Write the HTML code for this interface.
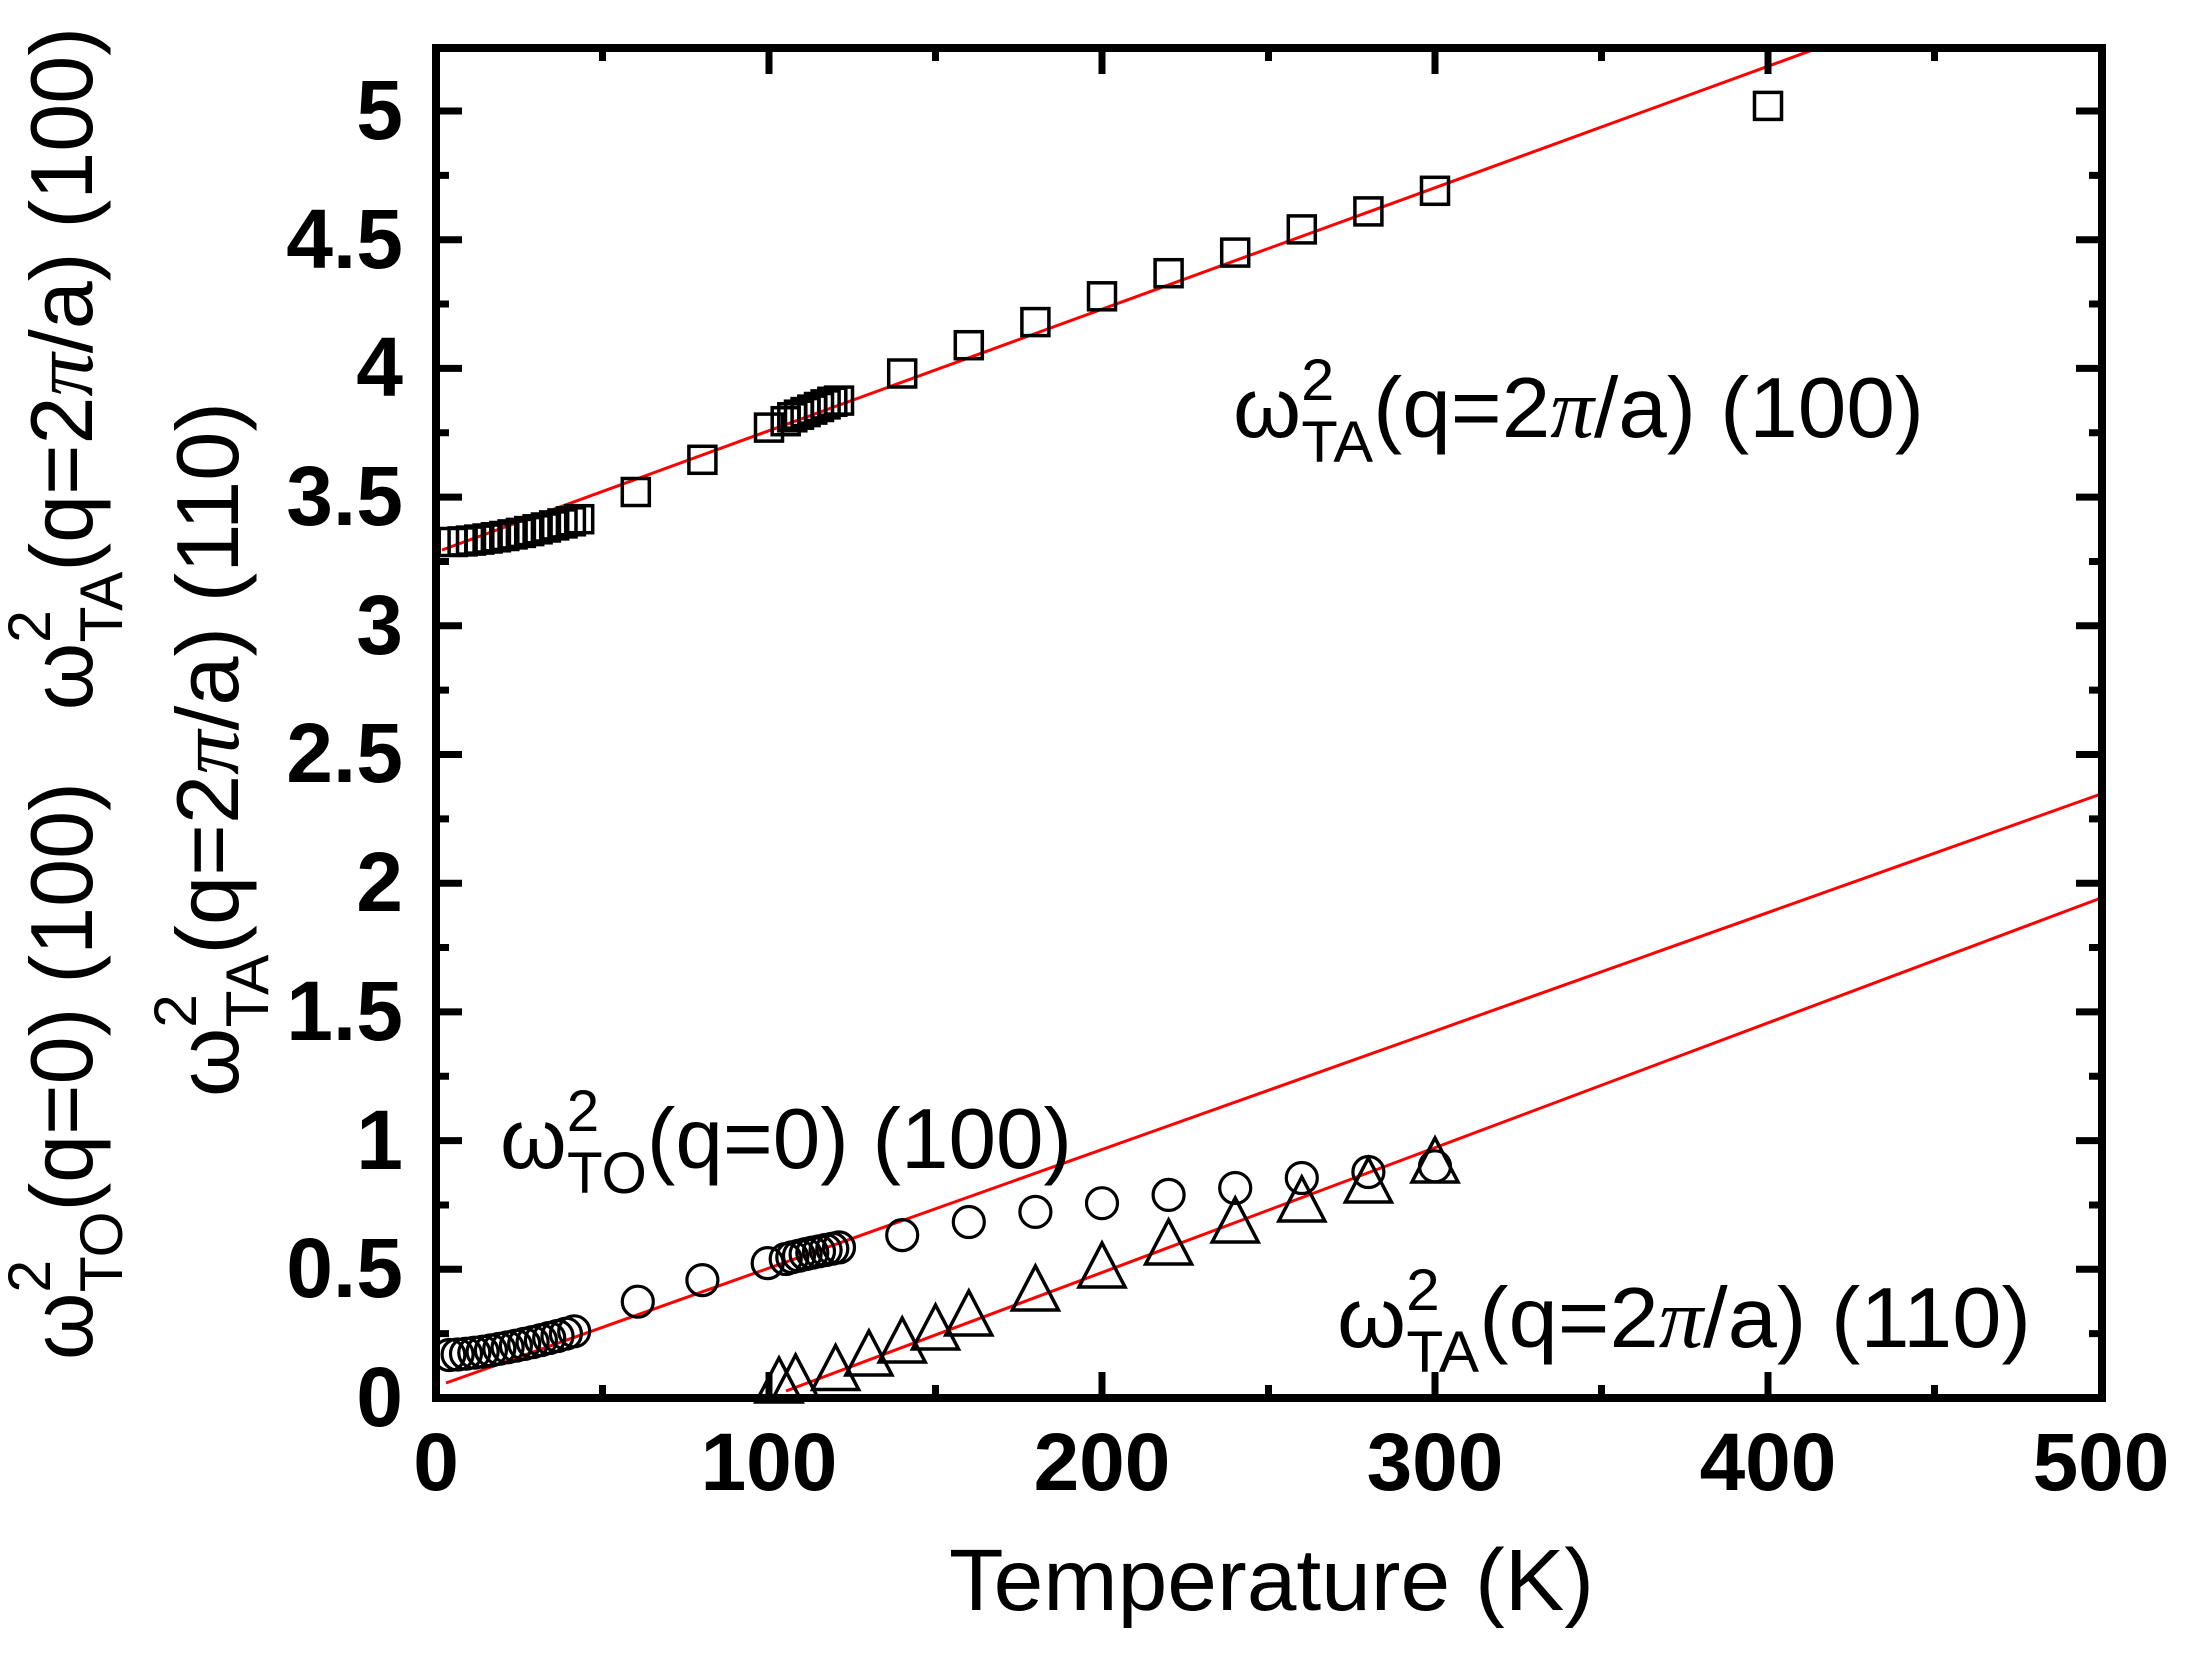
<!DOCTYPE html>
<html><head><meta charset="utf-8"><style>
html,body{margin:0;padding:0;background:#fff;}
svg{display:block;}
text{font-family:"Liberation Sans",sans-serif;fill:#000;}
</style></head><body>
<svg width="2186" height="1655" viewBox="0 0 2186 1655" xmlns="http://www.w3.org/2000/svg">
<rect width="2186" height="1655" fill="#fff"/>
<g stroke="#ff0000" stroke-width="3" fill="none">
<line x1="442" y1="550" x2="1818" y2="48"/>
<line x1="446" y1="1383" x2="2101" y2="794"/>
<line x1="786" y1="1391" x2="2101" y2="898"/>
</g>
<g stroke="#000" stroke-width="3.5" fill="none">
<rect x="439.2" y="528.5" width="27" height="27"/>
<rect x="449.1" y="527.9" width="27" height="27"/>
<rect x="457.5" y="527.1" width="27" height="27"/>
<rect x="465.8" y="526.1" width="27" height="27"/>
<rect x="474.1" y="525" width="27" height="27"/>
<rect x="482.4" y="523.8" width="27" height="27"/>
<rect x="490.8" y="522.5" width="27" height="27"/>
<rect x="499.1" y="520.9" width="27" height="27"/>
<rect x="507.4" y="519.4" width="27" height="27"/>
<rect x="515.7" y="517.6" width="27" height="27"/>
<rect x="524.1" y="515.8" width="27" height="27"/>
<rect x="532.4" y="514" width="27" height="27"/>
<rect x="540.7" y="511.9" width="27" height="27"/>
<rect x="549" y="509.9" width="27" height="27"/>
<rect x="557.4" y="507.8" width="27" height="27"/>
<rect x="565.7" y="505.7" width="27" height="27"/>
<rect x="622.3" y="478.5" width="27" height="27"/>
<rect x="688.9" y="446.3" width="27" height="27"/>
<rect x="755.5" y="414.1" width="27" height="27"/>
<rect x="772.2" y="407.7" width="27" height="27"/>
<rect x="778.8" y="403.8" width="27" height="27"/>
<rect x="785.5" y="401.2" width="27" height="27"/>
<rect x="792.1" y="398.6" width="27" height="27"/>
<rect x="798.8" y="396.1" width="27" height="27"/>
<rect x="805.5" y="393.5" width="27" height="27"/>
<rect x="812.1" y="390.9" width="27" height="27"/>
<rect x="818.8" y="388.3" width="27" height="27"/>
<rect x="825.5" y="387.1" width="27" height="27"/>
<rect x="888.7" y="360" width="27" height="27"/>
<rect x="955.3" y="331.7" width="27" height="27"/>
<rect x="1021.9" y="308.6" width="27" height="27"/>
<rect x="1088.5" y="282.8" width="27" height="27"/>
<rect x="1155.1" y="259.7" width="27" height="27"/>
<rect x="1221.7" y="239.1" width="27" height="27"/>
<rect x="1288.3" y="215.9" width="27" height="27"/>
<rect x="1354.9" y="197.9" width="27" height="27"/>
<rect x="1421.5" y="177.3" width="27" height="27"/>
<rect x="1754.5" y="92.4" width="27" height="27"/>
</g>
<g stroke="#000" stroke-width="3.2" fill="none">
<circle cx="449.3" cy="1355" r="15.5"/>
<circle cx="457.6" cy="1354.5" r="15.5"/>
<circle cx="466" cy="1353.7" r="15.5"/>
<circle cx="474.3" cy="1352.7" r="15.5"/>
<circle cx="482.6" cy="1351.7" r="15.5"/>
<circle cx="490.9" cy="1350.4" r="15.5"/>
<circle cx="499.3" cy="1348.8" r="15.5"/>
<circle cx="507.6" cy="1347.3" r="15.5"/>
<circle cx="515.9" cy="1345.7" r="15.5"/>
<circle cx="524.2" cy="1343.9" r="15.5"/>
<circle cx="532.6" cy="1342.1" r="15.5"/>
<circle cx="540.9" cy="1340.1" r="15.5"/>
<circle cx="549.2" cy="1338" r="15.5"/>
<circle cx="557.5" cy="1336" r="15.5"/>
<circle cx="565.9" cy="1333.7" r="15.5"/>
<circle cx="574.2" cy="1331.3" r="15.5"/>
<circle cx="637.8" cy="1301.7" r="15.5"/>
<circle cx="702.4" cy="1280.1" r="15.5"/>
<circle cx="767.7" cy="1263.1" r="15.5"/>
<circle cx="785.7" cy="1259" r="15.5"/>
<circle cx="792.3" cy="1257.2" r="15.5"/>
<circle cx="799" cy="1255.7" r="15.5"/>
<circle cx="805.6" cy="1254.1" r="15.5"/>
<circle cx="812.3" cy="1252.6" r="15.5"/>
<circle cx="819" cy="1251.3" r="15.5"/>
<circle cx="825.6" cy="1250" r="15.5"/>
<circle cx="832.3" cy="1248.7" r="15.5"/>
<circle cx="839" cy="1247.4" r="15.5"/>
<circle cx="902.2" cy="1235.1" r="15.5"/>
<circle cx="968.8" cy="1222" r="15.5"/>
<circle cx="1035.4" cy="1211.9" r="15.5"/>
<circle cx="1102" cy="1203.2" r="15.5"/>
<circle cx="1168.6" cy="1194.9" r="15.5"/>
<circle cx="1235.2" cy="1188" r="15.5"/>
<circle cx="1301.8" cy="1178" r="15.5"/>
<circle cx="1368.4" cy="1172" r="15.5"/>
<circle cx="1435" cy="1166.3" r="15.5"/>
</g>
<g stroke="#000" stroke-width="3.5" fill="none" stroke-linejoin="miter">
<polygon points="779,1358 756,1402 802,1402"/>
<polygon points="795.6,1355 772.6,1399 818.6,1399"/>
<polygon points="835.6,1345.5 812.6,1389.5 858.6,1389.5"/>
<polygon points="868.9,1331 845.9,1375 891.9,1375"/>
<polygon points="902.2,1318 879.2,1362 925.2,1362"/>
<polygon points="935.5,1305 912.5,1349 958.5,1349"/>
<polygon points="968.8,1291 945.8,1335 991.8,1335"/>
<polygon points="1035.4,1266 1012.4,1310 1058.4,1310"/>
<polygon points="1102,1243 1079,1287 1125,1287"/>
<polygon points="1168.6,1220 1145.6,1264 1191.6,1264"/>
<polygon points="1235.2,1198 1212.2,1242 1258.2,1242"/>
<polygon points="1301.8,1177 1278.8,1221 1324.8,1221"/>
<polygon points="1368.4,1158 1345.4,1202 1391.4,1202"/>
<polygon points="1435,1138 1412,1182 1458,1182"/>
</g>
<rect x="436" y="48" width="1666" height="1350" fill="none" stroke="#000" stroke-width="8"/>
<path stroke="#000" stroke-width="7" fill="none" d="
M436 1269.3h26M436 1140.6h26M436 1011.9h26M436 883.2h26M436 754.5h26M436 625.8h26M436 497.1h26M436 368.4h26M436 239.7h26M436 111h26
M436 1333.65h13M436 1204.95h13M436 1076.25h13M436 947.55h13M436 818.85h13M436 690.15h13M436 561.45h13M436 432.75h13M436 304.05h13M436 175.35h13
M2102 1269.3h-26M2102 1140.6h-26M2102 1011.9h-26M2102 883.2h-26M2102 754.5h-26M2102 625.8h-26M2102 497.1h-26M2102 368.4h-26M2102 239.7h-26M2102 111h-26
M2102 1333.65h-13M2102 1204.95h-13M2102 1076.25h-13M2102 947.55h-13M2102 818.85h-13M2102 690.15h-13M2102 561.45h-13M2102 432.75h-13M2102 304.05h-13M2102 175.35h-13
M769 1398v-26M1102 1398v-26M1435 1398v-26M1768 1398v-26
M602.5 1398v-13M935.5 1398v-13M1268.5 1398v-13M1601.5 1398v-13M1934.5 1398v-13
M769 48v26M1102 48v26M1435 48v26M1768 48v26
M602.5 48v13M935.5 48v13M1268.5 48v13M1601.5 48v13M1934.5 48v13"/>
<g font-size="84" font-weight="bold" text-anchor="end">
<text x="403" y="1426">0</text>
<text x="403" y="1297">0.5</text>
<text x="403" y="1169">1</text>
<text x="403" y="1040">1.5</text>
<text x="403" y="911">2</text>
<text x="403" y="782">2.5</text>
<text x="403" y="654">3</text>
<text x="403" y="525">3.5</text>
<text x="403" y="396">4</text>
<text x="403" y="268">4.5</text>
<text x="403" y="139">5</text>
</g>
<g font-size="82" font-weight="bold" text-anchor="middle">
<text x="436" y="1490">0</text>
<text x="769" y="1490">100</text>
<text x="1102" y="1490">200</text>
<text x="1435" y="1490">300</text>
<text x="1768" y="1490">400</text>
<text x="2101" y="1490">500</text>
</g>
<text x="949" y="1610" font-size="87" textLength="645" lengthAdjust="spacingAndGlyphs">Temperature (K)</text>
<text x="1233" y="437" font-size="85" textLength="691" lengthAdjust="spacingAndGlyphs">ω<tspan font-size="58" dy="-37">2</tspan><tspan font-size="58" dx="-32" dy="62">TA</tspan><tspan dy="-25">(q=2</tspan><tspan font-family="Liberation Serif" font-style="italic">π</tspan>/a) (100)</text>
<text x="500" y="1168" font-size="85" textLength="572" lengthAdjust="spacingAndGlyphs">ω<tspan font-size="58" dy="-37">2</tspan><tspan font-size="58" dx="-32" dy="62">TO</tspan><tspan dy="-25">(q=0) (100)</tspan></text>
<text x="1337" y="1347" font-size="85" textLength="694" lengthAdjust="spacingAndGlyphs">ω<tspan font-size="58" dy="-37">2</tspan><tspan font-size="58" dx="-32" dy="62">TA</tspan><tspan dy="-25">(q=2</tspan><tspan font-family="Liberation Serif" font-style="italic">π</tspan>/a) (110)</text>
<g transform="translate(92,1360) rotate(-90)">
<text x="0" y="0" font-size="88" textLength="1333" lengthAdjust="spacingAndGlyphs">ω<tspan font-size="60" dy="-42">2</tspan><tspan font-size="60" dx="-33" dy="72">TO</tspan><tspan dy="-30">(q=0) (100)&#160;&#160;&#160;ω</tspan><tspan font-size="60" dy="-42">2</tspan><tspan font-size="60" dx="-33" dy="72">TA</tspan><tspan dy="-30">(q=2</tspan><tspan font-family="Liberation Serif" font-style="italic">π</tspan>/a) (100)</text>
</g>
<g transform="translate(238,1097) rotate(-90)">
<text x="0" y="0" font-size="88" textLength="695" lengthAdjust="spacingAndGlyphs">ω<tspan font-size="60" dy="-42">2</tspan><tspan font-size="60" dx="-33" dy="72">TA</tspan><tspan dy="-30">(q=2</tspan><tspan font-family="Liberation Serif" font-style="italic">π</tspan>/a) (110)</text>
</g>
</svg>
</body></html>
